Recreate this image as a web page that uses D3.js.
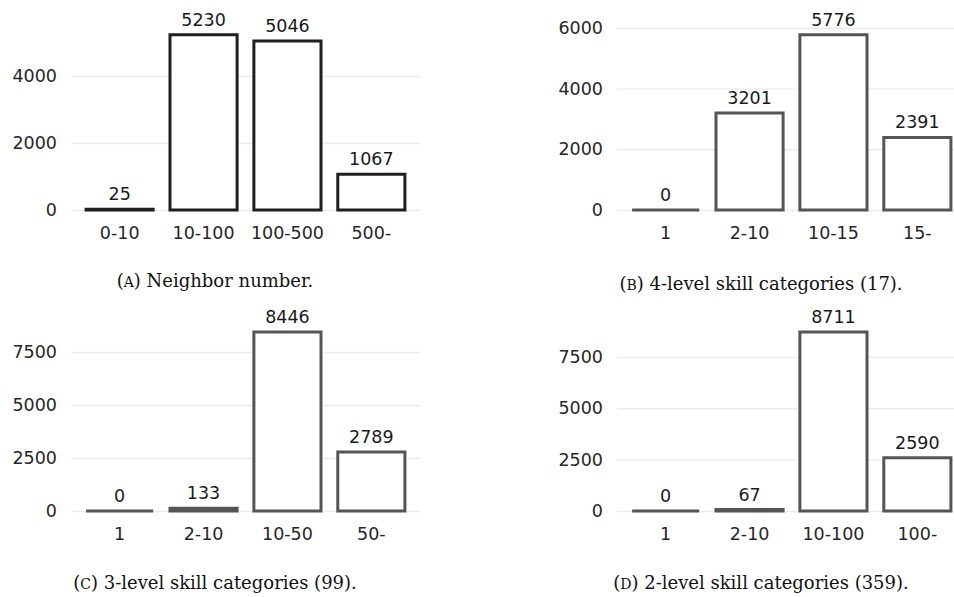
<!DOCTYPE html>
<html>
<head>
<meta charset="utf-8">
<script src="https://cdn.jsdelivr.net/npm/d3@7"></script>
<style>
  body { margin: 0; background: #fff; }
  svg { display: block; }
</style>
</head>
<body>
<div id="chart"></div>
<script>
// values
var catsA = ["0-10", "10-100", "100-500", "500-"];
var valsA = [25, 5230, 5046, 1067];
var ticksA = [0, 2000, 4000];

var catsB = ["1", "2-10", "10-15", "15-"];
var valsB = [0, 3201, 5776, 2391];
var ticksB = [0, 2000, 4000, 6000];

var catsC = ["1", "2-10", "10-50", "50-"];
var valsC = [0, 133, 8446, 2789];
var ticksC = [0, 2500, 5000, 7500];

var catsD = ["1", "2-10", "10-100", "100-"];
var valsD = [0, 67, 8711, 2590];
var ticksD = [0, 2500, 5000, 7500];

var captionLetters = ["A", "B", "C", "D"];
var captionTexts = ["Neighbor number.", "4-level skill categories (17).", "3-level skill categories (99).", "2-level skill categories (359)."];

var W = 954, H = 597;
var svg = d3.select("#chart").append("svg").attr("width", W).attr("height", H);

var sans = "DejaVu Sans";

function drawPanel(cats, vals, ticks, opt) {
    var g = svg.append("g").attr("transform", "translate(" + opt.dx + "," + opt.dy + ")");

    var x = d3.scaleBand().domain(cats).range([71, 420]).paddingInner(0.2).paddingOuter(0.18);
    var y = d3.scaleLinear().domain([0, d3.max(vals) * 1.05]).range([opt.zero, opt.zero - opt.h]);

    // gridlines + y labels
    var yAxis = d3.axisLeft(y).tickValues(ticks).tickSize(-349).tickPadding(14).tickFormat(d3.format("d"));
    var ga = g.append("g").attr("transform", "translate(71,0)").call(yAxis);
    ga.select(".domain").remove();
    ga.selectAll(".tick line").attr("stroke", "#ebebeb").attr("stroke-width", 1.4);
    ga.selectAll(".tick text").attr("font-family", sans).attr("font-size", 17.5).attr("fill", "#262626");

    // x labels
    var xAxis = d3.axisBottom(x).tickSize(0).tickPadding(16.6);
    var gx = g.append("g").attr("transform", "translate(0," + opt.zero + ")").call(xAxis);
    gx.select(".domain").remove();
    gx.selectAll(".tick text").attr("font-family", sans).attr("font-size", 17.5).attr("fill", "#262626");

    var data = cats.map(function(c, i) { return { cat: c, val: vals[i] }; });

    // bars as closed paths so zero-height bars still show their outline
    g.selectAll("path.bar")
        .data(data)
        .enter()
        .append("path")
        .attr("class", "bar")
        .attr("d", function(d) {
            var p = d3.path();
            var x0 = x(d.cat), x1 = x0 + x.bandwidth();
            p.moveTo(x0, y(0));
            p.lineTo(x0, y(d.val));
            p.lineTo(x1, y(d.val));
            p.lineTo(x1, y(0));
            p.closePath();
            return p.toString();
        })
        .attr("fill", "#fff")
        .attr("stroke", opt.stroke)
        .attr("stroke-width", 3)
        .attr("stroke-linejoin", "miter");

    g.selectAll("text.val")
        .data(data)
        .enter()
        .append("text")
        .attr("class", "val")
        .attr("x", d => x(d.cat) + x.bandwidth() / 2)
        .attr("y", d => y(d.val) - 9)
        .attr("text-anchor", "middle")
        .attr("font-family", sans)
        .attr("font-size", 17.5)
        .attr("fill", "#1a1a1a")
        .text(d => d.val);

    // caption
    var cap = g.append("text")
        .attr("x", 215)
        .attr("y", opt.capY)
        .attr("text-anchor", "middle")
        .attr("font-family", "DejaVu Serif")
        .attr("font-size", 18)
        .attr("fill", "#111");
    cap.append("tspan").text("(");
    cap.append("tspan").attr("font-size", 14).text(opt.letter);
    cap.append("tspan").text(") " + opt.caption);
}

drawPanel(catsA, valsA, ticksA, { dx: 0, dy: 0, zero: 210, h: 184, stroke: "#1f1f1f", capY: 287, letter: captionLetters[0], caption: captionTexts[0] });
drawPanel(catsB, valsB, ticksB, { dx: 546, dy: 0, zero: 210, h: 184, stroke: "#555", capY: 290, letter: captionLetters[1], caption: captionTexts[1] });
drawPanel(catsC, valsC, ticksC, { dx: 0, dy: 0, zero: 511, h: 188, stroke: "#555", capY: 589, letter: captionLetters[2], caption: captionTexts[2] });
drawPanel(catsD, valsD, ticksD, { dx: 546, dy: 0, zero: 511, h: 188, stroke: "#555", capY: 589, letter: captionLetters[3], caption: captionTexts[3] });
</script>
</body>
</html>
